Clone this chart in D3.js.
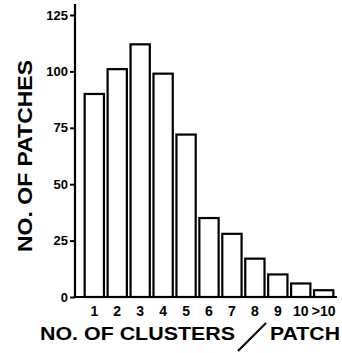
<!DOCTYPE html>
<html>
<head>
<meta charset="utf-8">
<script src="https://d3js.org/d3.v7.min.js"></script>
<style>
  body { margin: 0; background: #fff; }
  text { font-family: "Liberation Sans", Arial, sans-serif; font-weight: bold; fill: #000; }
</style>
</head>
<body>
<div id="chart"></div>
<script>
var categories = ["1", "2", "3", "4", "5", "6", "7", "8", "9", "10", ">10"];
var patches = [90, 101, 112, 99, 72, 35, 28, 17, 10, 6, 3];
var yTicks = [0, 25, 50, 75, 100, 125];

var w = 342,
    h = 353,
    x0 = 75,
    y0 = 297;

var svg = d3.select("#chart")
    .append("svg")
    .attr("width", w)
    .attr("height", h);

var x = d3.scaleBand()
    .domain(categories)
    .range([81, 337])
    .padding(0.16);

var y = d3.scaleLinear()
    .domain([0, 125])
    .range([y0, 15]);

// bars
svg.selectAll("rect.bar")
    .data(patches)
    .enter().append("rect")
    .attr("class", "bar")
    .attr("x", function(d, i) { return x(categories[i]); })
    .attr("y", function(d) { return y(d); })
    .attr("width", x.bandwidth())
    .attr("height", function(d) { return y0 - y(d); })
    .style("fill", "#fff")
    .style("stroke", "#000")
    .style("stroke-width", 2.2);

// y axis
var yAxis = d3.axisLeft(y)
    .tickValues(yTicks)
    .tickSize(5)
    .tickPadding(2);

var gy = svg.append("g")
    .attr("transform", "translate(" + x0 + ",0)")
    .call(yAxis);
gy.select(".domain").remove();
gy.selectAll("line").style("stroke", "#000").style("stroke-width", 2);
gy.selectAll("text")
    .style("font-size", "13px")
    .style("font-family", "'Liberation Sans', Arial, sans-serif")
    .style("font-weight", "bold");

svg.append("line")
    .attr("x1", x0).attr("x2", x0)
    .attr("y1", 4).attr("y2", y0 + 1)
    .style("stroke", "#000")
    .style("stroke-width", 2.2);

// x axis
var xAxis = d3.axisBottom(x)
    .tickSize(0)
    .tickPadding(9);

var gx = svg.append("g")
    .attr("transform", "translate(0," + y0 + ")")
    .call(xAxis);
gx.select(".domain").remove();
gx.selectAll("text")
    .style("font-size", "14px")
    .style("font-family", "'Liberation Sans', Arial, sans-serif")
    .style("font-weight", "bold");

svg.append("line")
    .attr("x1", x0 - 1).attr("x2", 337)
    .attr("y1", y0).attr("y2", y0)
    .style("stroke", "#000")
    .style("stroke-width", 2.2);

// axis titles
svg.append("text")
    .attr("transform", "translate(32,156)rotate(-90)")
    .attr("text-anchor", "middle")
    .attr("textLength", 192)
    .attr("lengthAdjust", "spacingAndGlyphs")
    .style("font-size", "20px")
    .text("NO. OF PATCHES");

svg.append("text")
    .attr("x", 40)
    .attr("y", 340)
    .attr("textLength", 195)
    .attr("lengthAdjust", "spacingAndGlyphs")
    .style("font-size", "18px")
    .text("NO. OF CLUSTERS");

svg.append("line")
    .attr("x1", 238).attr("y1", 351)
    .attr("x2", 266).attr("y2", 323)
    .style("stroke", "#000")
    .style("stroke-width", 2.2);

svg.append("text")
    .attr("x", 270)
    .attr("y", 340)
    .attr("textLength", 70)
    .attr("lengthAdjust", "spacingAndGlyphs")
    .style("font-size", "18px")
    .text("PATCH");
</script>
</body>
</html>
